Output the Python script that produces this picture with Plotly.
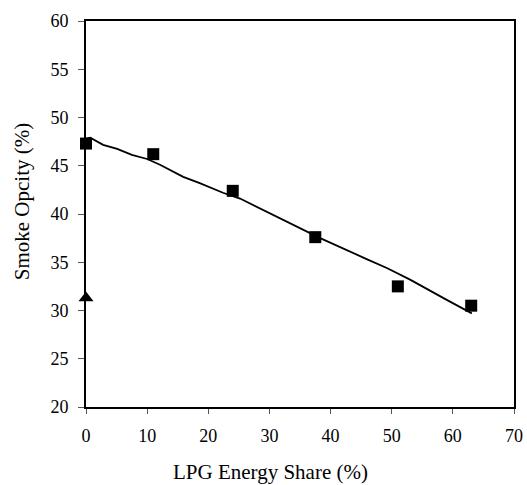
import plotly.graph_objects as go

lpg_share = [0, 11, 24, 37.5, 51, 63]
smoke_opacity = [47.3, 46.2, 42.4, 37.6, 32.5, 30.5]

diesel_share = [0]
diesel_opacity = [31.3]

trend_x = [0, 0.7, 2.8, 5.1, 7.5, 10.0, 12.1, 15.9, 18.6, 22.4, 25.2, 31.7, 38.3, 45.9, 49.2, 53.0, 56.3, 59.0, 63.1]
trend_y = [47.8, 47.9, 47.16, 46.75, 46.13, 45.7, 45.1, 43.85, 43.2, 42.2, 41.6, 39.58, 37.5, 35.33, 34.4, 33.2, 32.0, 31.1, 29.7]

x_ticks = [0, 10, 20, 30, 40, 50, 60, 70]
y_ticks = [20, 25, 30, 35, 40, 45, 50, 55, 60]

x_title = "LPG Energy Share (%)"
y_title = "Smoke Opcity (%)"

fig = go.Figure()
fig.add_trace(go.Scatter(x=trend_x, y=trend_y, mode="lines",
                         line=dict(color="black", width=1.8), showlegend=False))
fig.add_trace(go.Scatter(x=lpg_share, y=smoke_opacity, mode="markers",
                         marker=dict(symbol="square", size=12, color="black"), showlegend=False, cliponaxis=False))
fig.add_trace(go.Scatter(x=diesel_share, y=diesel_opacity, mode="markers",
                         marker=dict(symbol="triangle-up", size=13, color="black"), showlegend=False, cliponaxis=False))

font_family = "Liberation Serif"
fig.update_layout(
    width=527, height=485,
    margin=dict(l=86, r=13, t=21, b=78),
    paper_bgcolor="white", plot_bgcolor="white",
    font=dict(family=font_family, color="black", size=18),
    xaxis=dict(range=[0, 70], tickvals=x_ticks, ticks="outside", ticklen=5, tickcolor="#555", tickwidth=1,
               showline=True, linecolor="black", linewidth=2, mirror=True, showgrid=False, zeroline=False,
               automargin=False, ticklabelstandoff=6, tickfont=dict(size=18)),
    yaxis=dict(range=[20, 60], tickvals=y_ticks, ticks="outside", ticklen=6, tickcolor="#555", tickwidth=1,
               showline=True, linecolor="black", linewidth=2, mirror=True, showgrid=False, zeroline=False,
               automargin=False, ticklabelstandoff=6, tickfont=dict(size=18)),
    annotations=[
        dict(text=x_title, xref="paper", yref="paper", x=0.43, y=-0.168, xanchor="center", yanchor="middle",
             showarrow=False, font=dict(size=21)),
        dict(text=y_title, xref="paper", yref="paper", x=-0.149, y=0.531, xanchor="center", yanchor="middle",
             textangle=-90, showarrow=False, font=dict(size=21)),
    ],
)
fig.write_html("out.html", config={"displayModeBar": False},
               post_script="document.body.style.margin='0px';")
